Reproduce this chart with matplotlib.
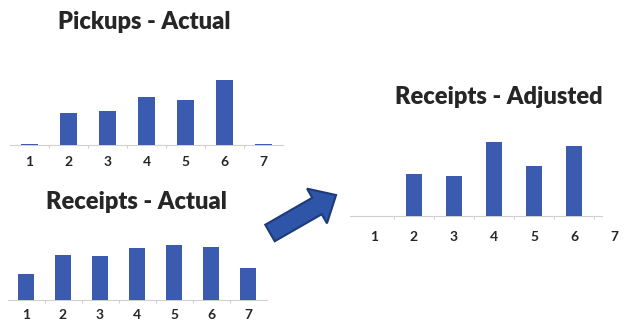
import numpy as np
import matplotlib
matplotlib.use("Agg")
import matplotlib.pyplot as plt
from matplotlib.patches import FancyArrow

plt.rcParams['font.family'] = ['Lato', 'DejaVu Sans']

W, H = 624, 324
cats = [1, 2, 3, 4, 5, 6, 7]

# values (arbitrary units)
pickups_actual = [0.6, 32, 34, 48, 45, 65, 0.6]
receipts_actual = [26, 45, 44, 52, 55, 53, 32]
receipts_adjusted = [0, 42, 40, 74, 50, 70, 0]

titles = ["Pickups - Actual", "Receipts - Actual", "Receipts - Adjusted"]

bar_color = '#3b5bb0'
axis_color = '#d0d0d0'
text_color = '#262626'

fig = plt.figure(figsize=(W / 100, H / 100), dpi=100)
fig.patch.set_facecolor('white')


def px_axes(left, bottom, width, height):
    return fig.add_axes([left / W, bottom / H, width / W, height / H])


def small_bars(ax, vals, xlim, barw, pad, line=None):
    ax.bar(cats, vals, width=barw, color=bar_color, zorder=3)
    ax.set_xlim(*xlim)
    ax.set_ylim(0, 80)
    for s in ['top', 'right', 'left']:
        ax.spines[s].set_visible(False)
    ax.spines['bottom'].set_color(axis_color)
    ax.spines['bottom'].set_linewidth(0.8)
    if line:
        ax.spines['bottom'].set_bounds(*line)
    ax.set_yticks([])
    ax.set_xticks(cats)
    ax.set_xticks([c + 0.5 for c in cats[:-1]], minor=True)
    ax.tick_params(axis='x', which='major', length=0, pad=pad,
                   labelsize=10, labelcolor=text_color)
    ax.tick_params(axis='x', which='minor', length=2.5, color=axis_color,
                   width=0.8)
    for lab in ax.get_xticklabels():
        lab.set_fontweight('bold')
    ax.patch.set_alpha(0)


# chart 1: pickups actual
ax1 = px_axes(10, 179, 273, 80)
small_bars(ax1, pickups_actual, (0.5, 7.5), 0.42, 8)

# chart 2: receipts actual
ax2 = px_axes(7.5, 24.3, 259, 80)
small_bars(ax2, receipts_actual, (0.5, 7.5), 0.44, 7)

# chart 3: receipts adjusted
ax3 = px_axes(350, 108.3, 300, 80)
small_bars(ax3, receipts_adjusted, (0.4, 7.9), 0.4, 11, line=(0.4, 6.7))

# titles
title_pos = [(144, 22), (136, 202), (499, 97)]
for t, (x, y) in zip(titles, title_pos):
    fig.text(x / W, 1 - y / H, t, ha='center', va='center',
             fontsize=17, fontweight='heavy', color=text_color)

# arrow pointing from actual to adjusted
over = fig.add_axes([0, 0, 1, 1])
over.set_xlim(0, W)
over.set_ylim(H, 0)
over.axis('off')
over.patch.set_alpha(0)
over.add_patch(FancyArrow(270, 233, 47, -27, width=19, head_width=40,
                          head_length=22, length_includes_head=False,
                          facecolor='#2f55a8', edgecolor='#1d3b7c',
                          linewidth=1.5))

fig.savefig('out.png', dpi=100)
